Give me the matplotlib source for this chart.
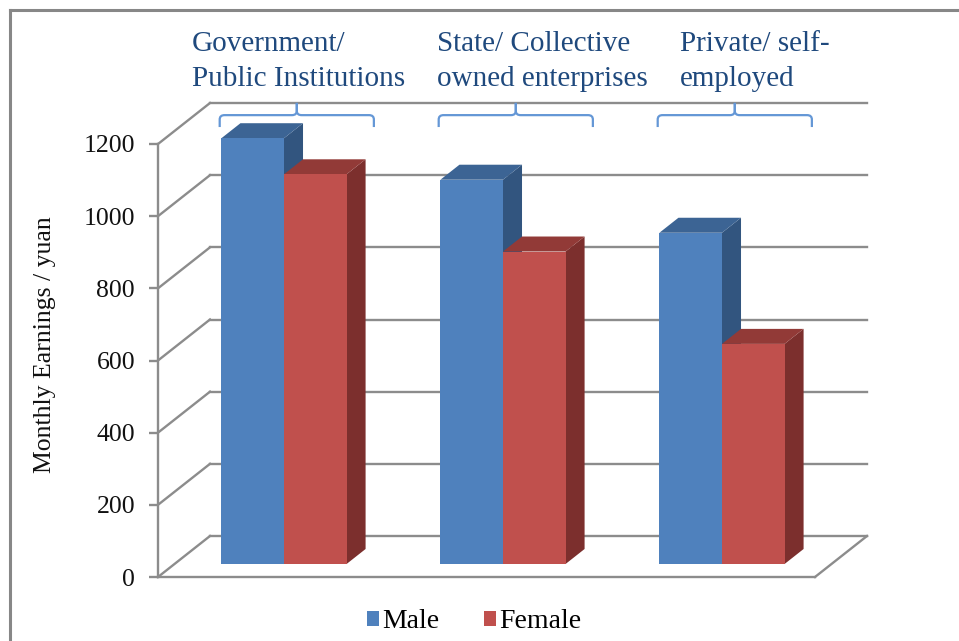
import matplotlib
matplotlib.use("Agg")
import matplotlib.pyplot as plt
from matplotlib.patches import Polygon, PathPatch
from matplotlib.path import Path
from matplotlib.lines import Line2D

# ---- data -------------------------------------------------------------
categories = ["Government/\nPublic Institutions",
              "State/ Collective\nowned enterprises",
              "Private/ self-\nemployed"]
series_names = ["Male", "Female"]
male = [1180, 1065, 918]
female = [1080, 866, 610]
yticks = [0, 200, 400, 600, 800, 1000, 1200]
ylabel = "Monthly Earnings / yuan"

# ---- style ------------------------------------------------------------
plt.rcParams['font.family'] = ['Liberation Serif', 'DejaVu Serif']
front_cols = ["#4F81BD", "#C0504D"]
top_cols = ["#3C6494", "#923A37"]
side_cols = ["#32557F", "#7C2F2D"]
grid_col = "#8C8C8C"
label_col = "#1F497D"
brace_col = "#6497D6"

W, H = 959, 641
fig = plt.figure(figsize=(W / 100, H / 100), dpi=100)

# axes = front plane of the 3-D box
L, R, B, T = 158, 815, 577, 144
ax = fig.add_axes([L / W, 1 - B / H, (R - L) / W, (B - T) / H])
n = len(categories)
ax.set_xlim(0, n)
ax.set_ylim(0, yticks[-1])

# depth of the box expressed in data units
DX = 52 / ((R - L) / n)
DY = 41 / ((B - T) / yticks[-1])
f0, f1 = 0.317, 0.683          # bars occupy this slice of the depth
gap = 1.5                       # gap width relative to one bar
bw = 1 / (2 + gap)

# back wall gridlines and left wall diagonals
for v in yticks:
    ax.add_line(Line2D([DX, n + DX], [v + DY, v + DY], color=grid_col,
                       lw=1.7, clip_on=False, zorder=1))
    ax.add_line(Line2D([0, DX], [v, v + DY], color=grid_col,
                       lw=1.7, clip_on=False, zorder=1))
# floor right edge
ax.add_line(Line2D([n, n + DX], [0, DY], color=grid_col, lw=1.7,
                   clip_on=False, zorder=1))

# bars
ox, oy = f0 * DX, f0 * DY
ddx, ddy = (f1 - f0) * DX, (f1 - f0) * DY
z = 2
for i in range(n):
    for s, vals in enumerate([male, female]):
        v = vals[i]
        x0 = i + 0.5 - bw + s * bw + ox
        x1 = x0 + bw
        side = Polygon([(x1, oy), (x1, oy + v), (x1 + ddx, oy + v + ddy),
                        (x1 + ddx, oy + ddy)], closed=True,
                       facecolor=side_cols[s], edgecolor='none',
                       clip_on=False, zorder=z)
        top = Polygon([(x0, oy + v), (x1, oy + v), (x1 + ddx, oy + v + ddy),
                       (x0 + ddx, oy + v + ddy)], closed=True,
                      facecolor=top_cols[s], edgecolor='none',
                      clip_on=False, zorder=z + 0.1)
        ax.add_patch(side)
        ax.add_patch(top)
        ax.bar(x0, v, width=bw, bottom=oy, align='edge',
               color=front_cols[s], linewidth=0, clip_on=False,
               zorder=z + 0.2, label=series_names[s] if i == 0 else None)
        z += 1

# braces above each category
hw = 0.352
yb, yend, ytip = 1280, 1247, 1314
rx, ry = 0.022, 12
for i in range(n):
    cx = i + 0.5 + 0.5 * DX + 0.015
    for sgn in (-1, 1):
        xe = cx + sgn * hw
        verts = [(xe, yend), (xe, yb - ry), (xe, yb), (xe - sgn * rx, yb),
                 (cx + sgn * rx, yb), (cx, yb), (cx, yb + ry), (cx, ytip)]
        codes = [Path.MOVETO, Path.LINETO, Path.CURVE3, Path.CURVE3,
                 Path.LINETO, Path.CURVE3, Path.CURVE3, Path.LINETO]
        ax.add_patch(PathPatch(Path(verts, codes), facecolor='none',
                               edgecolor=brace_col, lw=1.6, clip_on=False,
                               zorder=5))

# category labels
label_left_px = [192, 437, 680]
for lx, txt in zip(label_left_px, categories):
    fig.text(lx / W, 1 - 31 / H, txt, ha='left', va='top',
             fontsize=21, color=label_col, multialignment='left',
             linespacing=1.46)

# axes cosmetics
for sp in ['top', 'right']:
    ax.spines[sp].set_visible(False)
for sp in ['left', 'bottom']:
    ax.spines[sp].set_color(grid_col)
    ax.spines[sp].set_linewidth(1.7)
ax.set_xticks([])
ax.set_yticks(yticks)
ax.tick_params(axis='y', length=6.5, width=1.7, color=grid_col, pad=10,
               labelsize=18.5, labelcolor='#111111')
ax.patch.set_visible(False)

fig.text(45 / W, 1 - 345 / H, ylabel, rotation=90, ha='center',
         va='center', fontsize=18.5, color='#111111')

ax.legend(loc='center', bbox_to_anchor=(474 / W, 1 - 622 / H),
          bbox_transform=fig.transFigure, ncol=2, frameon=False,
          fontsize=20, handlelength=0.43, handleheight=0.47,
          handletextpad=0.12, columnspacing=1.6, borderpad=0)

# outer frame (left and top edges)
fig.add_artist(Line2D([9.5 / W, 9.5 / W], [0, 1 - 9.5 / H], color='#878787',
                      lw=2.2, transform=fig.transFigure))
fig.add_artist(Line2D([9.5 / W, 1], [1 - 9.5 / H, 1 - 9.5 / H],
                      color='#878787', lw=2.2, transform=fig.transFigure))

fig.savefig("out.png", dpi=100)
